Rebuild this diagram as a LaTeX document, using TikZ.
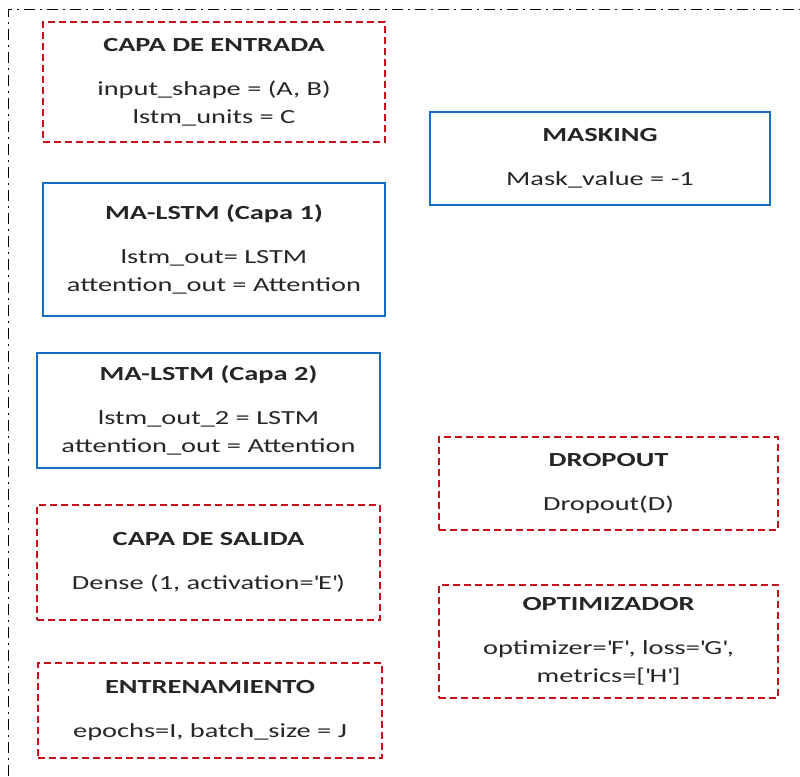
\documentclass[tikz,border=0pt]{standalone}
\usepackage{fontspec}
\setmainfont{Carlito}[FakeStretch=1.42]
\definecolor{boxred}{RGB}{200,16,24}
\definecolor{boxblue}{RGB}{20,110,195}
\newcommand{\sq}{\textquotesingle}
\tikzset{
  x=1pt, y=-1pt,
  layer/.style={line width=2pt, align=center, inner sep=0pt,
    font=\fontsize{20}{28}\selectfont, text=black!85},
  redbox/.style={layer, draw=boxred, dash pattern=on 7pt off 4pt},
  bluebox/.style={layer, draw=boxblue},
  frame/.style={draw=black, line width=1pt, dash pattern=on 11pt off 5pt on 2pt off 5pt}
}
\newcommand{\ttl}[1]{\textbf{#1}\\[16pt]}
\begin{document}
\begin{tikzpicture}
\useasboundingbox (0,0) rectangle (800,776);
% outer dash-dot frame (top and left sides)
\coordinate (ftl) at (8,10);
\coordinate (ftr) at (800,10);
\coordinate (fbl) at (8,776);
\draw[frame] (fbl) -- (ftl) -- (ftr);
% left column
\node[redbox, minimum width=342pt, minimum height=120pt] (entrada) at (214,82)
  {\ttl{CAPA DE ENTRADA}input\_shape = (A, B)\\lstm\_units = C};
\node[bluebox, minimum width=342pt, minimum height=133pt] (lstm1) at (214,249.5)
  {\ttl{MA-LSTM (Capa 1)}lstm\_out= LSTM\\attention\_out = Attention};
\node[bluebox, minimum width=343pt, minimum height=115pt] (lstm2) at (208.5,410.5)
  {\ttl{MA-LSTM (Capa 2)}lstm\_out\_2 = LSTM\\attention\_out = Attention};
\node[redbox, minimum width=343pt, minimum height=115pt] (salida) at (208.5,562.5)
  {\ttl{CAPA DE SALIDA}Dense (1, activation=\sq E\sq)};
\node[redbox, minimum width=344pt, minimum height=95pt] (entren) at (210,710.5)
  {\ttl{ENTRENAMIENTO}epochs=I, batch\_size = J};
% right column
\node[bluebox, minimum width=340pt, minimum height=93pt] (masking) at (600,158.5)
  {\ttl{MASKING}Mask\_value = -1};
\node[redbox, minimum width=339pt, minimum height=93pt] (dropout) at (608.5,483.5)
  {\ttl{DROPOUT}Dropout(D)};
\node[redbox, minimum width=339pt, minimum height=113pt] (optim) at (608.5,641.5)
  {\ttl{OPTIMIZADOR}optimizer=\sq F\sq, loss=\sq G\sq,\\metrics=[\sq H\sq]};
\end{tikzpicture}
\end{document}
